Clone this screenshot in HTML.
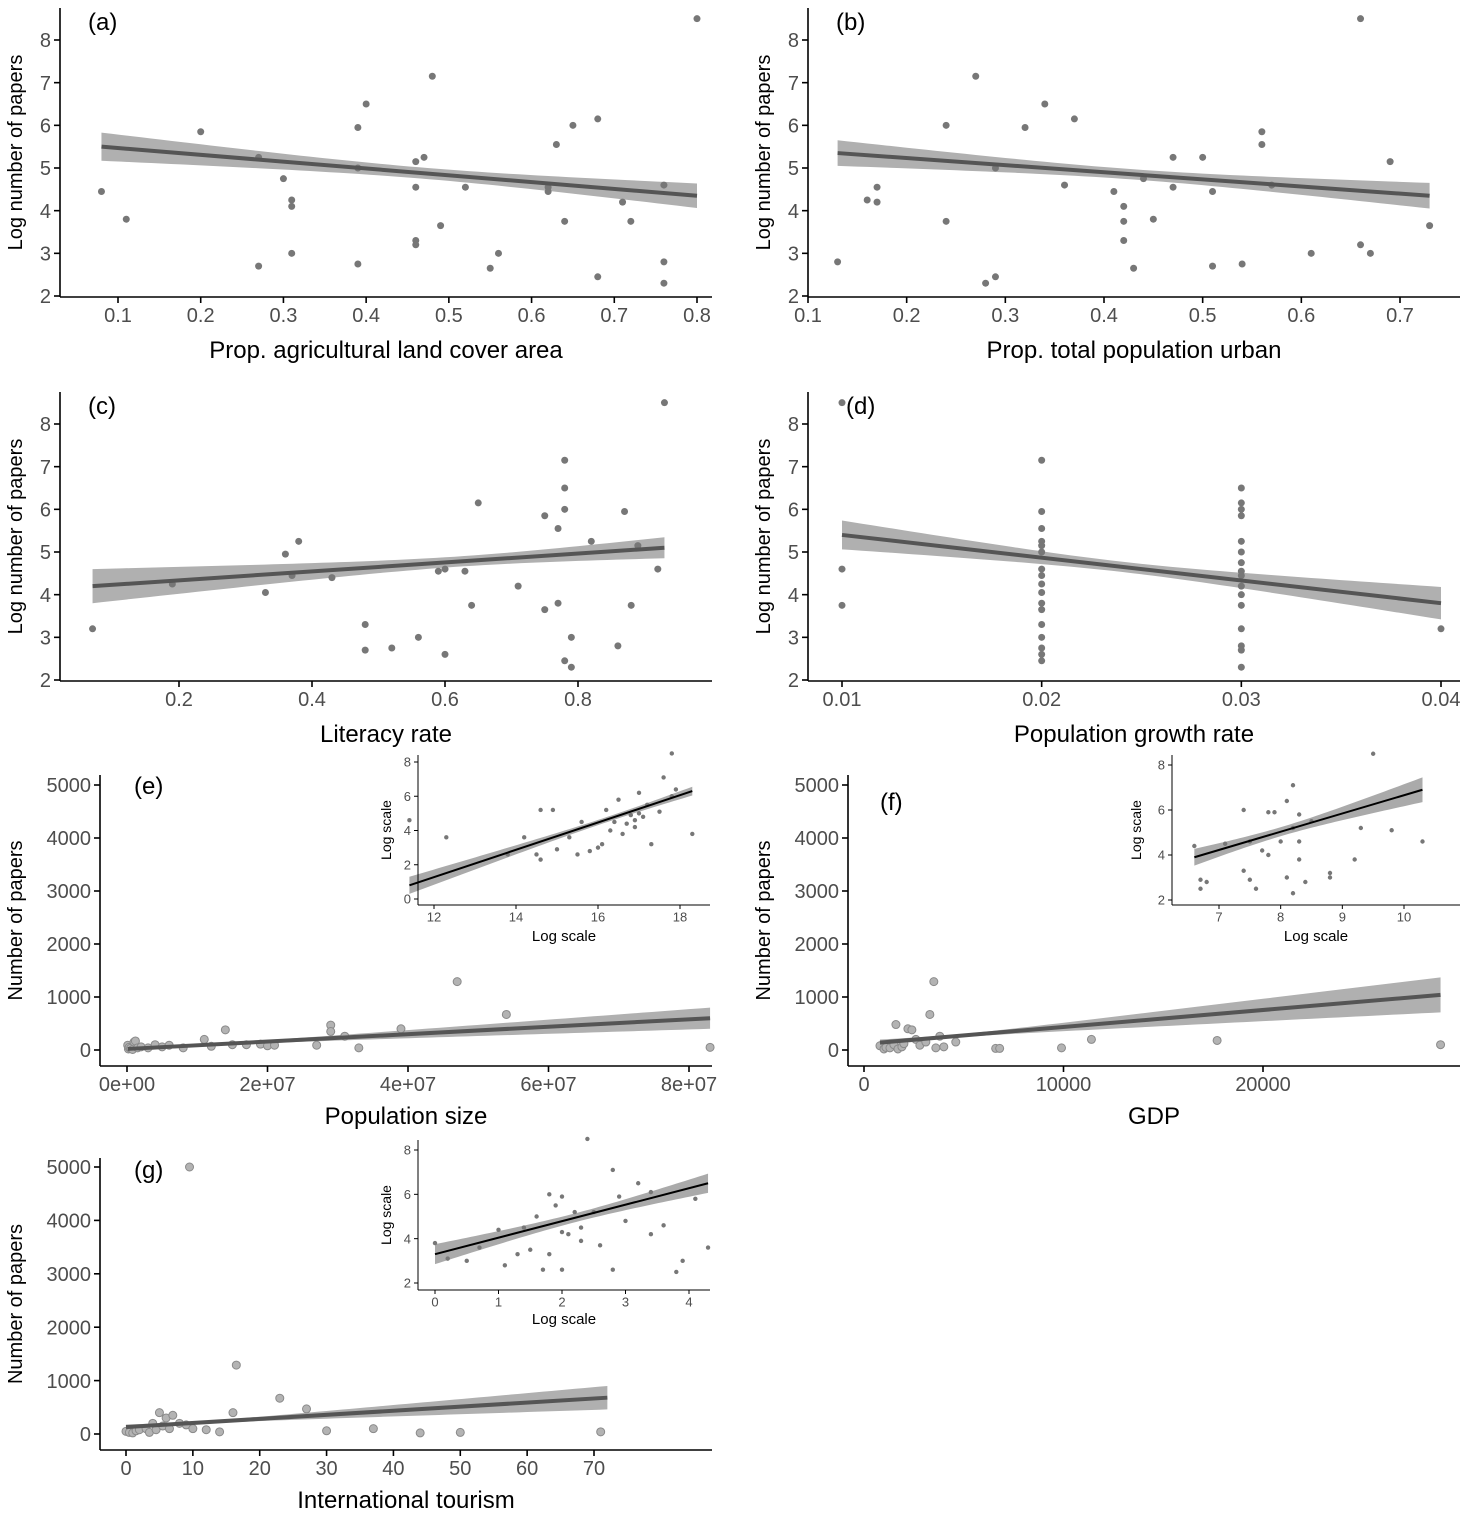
<!DOCTYPE html>
<html><head><meta charset="utf-8"><style>
html,body{margin:0;padding:0;background:#fff}
svg text{font-family:"Liberation Sans",Arial,sans-serif}
</style></head><body>
<svg id="c" width="1477" height="1514" xmlns="http://www.w3.org/2000/svg"></svg>
<script>
// ---------- data ----------
const aX=[0.08,0.11,0.2,0.27,0.27,0.3,0.31,0.31,0.31,0.39,0.39,0.39,0.4,0.46,0.46,0.46,0.46,0.47,0.48,0.49,0.52,0.55,0.56,0.63,0.62,0.62,0.64,0.65,0.68,0.68,0.71,0.72,0.76,0.76,0.76,0.8];
const aY=[4.45,3.8,5.85,5.25,2.7,4.75,4.25,4.1,3.0,5.95,5.0,2.75,6.5,5.15,4.55,3.3,3.2,5.25,7.15,3.65,4.55,2.65,3.0,5.55,4.55,4.45,3.75,6.0,6.15,2.45,4.2,3.75,4.6,2.8,2.3,8.5];
const aFit=[5.5,4.35];
const bX=[0.13,0.16,0.17,0.17,0.24,0.24,0.27,0.28,0.29,0.29,0.32,0.34,0.36,0.37,0.41,0.42,0.42,0.42,0.43,0.44,0.45,0.47,0.47,0.5,0.51,0.51,0.54,0.56,0.56,0.57,0.61,0.66,0.66,0.67,0.69,0.73];
const bY=[2.8,4.25,4.55,4.2,6.0,3.75,7.15,2.3,5.0,2.45,5.95,6.5,4.6,6.15,4.45,4.1,3.75,3.3,2.65,4.75,3.8,5.25,4.55,5.25,4.45,2.7,2.75,5.85,5.55,4.6,3.0,8.5,3.2,3.0,5.15,3.65];
const bFit=[5.35,4.35];
const cX=[0.07,0.19,0.33,0.36,0.37,0.38,0.43,0.48,0.48,0.52,0.56,0.59,0.6,0.6,0.63,0.64,0.65,0.71,0.75,0.75,0.77,0.77,0.78,0.78,0.78,0.78,0.79,0.79,0.82,0.86,0.87,0.88,0.89,0.92,0.93];
const cY=[3.2,4.25,4.05,4.95,4.45,5.25,4.4,3.3,2.7,2.75,3.0,4.55,4.6,2.6,4.55,3.75,6.15,4.2,5.85,3.65,5.55,3.8,7.15,6.5,6.0,2.45,3.0,2.3,5.25,2.8,5.95,3.75,5.15,4.6,8.5];
const cFit=[4.2,5.1];
const dX=[0.01,0.01,0.01,0.02,0.02,0.02,0.02,0.02,0.02,0.02,0.02,0.02,0.02,0.02,0.02,0.02,0.02,0.02,0.02,0.02,0.03,0.03,0.03,0.03,0.03,0.03,0.03,0.03,0.03,0.03,0.03,0.03,0.03,0.03,0.03,0.03,0.04];
const dY=[8.5,4.6,3.75,7.15,5.95,5.55,5.25,5.15,5.0,4.6,4.45,4.25,4.05,3.8,3.65,3.3,3.0,2.75,2.6,2.45,6.5,6.15,6.0,5.85,5.25,5.0,4.75,4.55,4.45,4.2,4.0,3.75,3.2,2.8,2.7,2.3,3.2];
const dFit=[5.4,3.8];
const eX=[0.1e6,0.2e6,0.3e6,0.5e6,0.8e6,1.0e6,1.2e6,1.5e6,2e6,3e6,4e6,5e6,6e6,8e6,11e6,12e6,14e6,15e6,17e6,19e6,20e6,21e6,27e6,29e6,29e6,31e6,33e6,39e6,47e6,54e6,83e6];
const eY=[90,20,50,30,10,150,170,40,60,40,100,60,90,40,200,70,380,100,100,110,80,90,90,470,350,260,40,400,1290,670,50];
const eFit=[20,600];
const fX=[800,1000,1100,1300,1500,1600,1700,1900,2000,2200,2400,2600,2800,3100,3300,3500,3600,3800,4000,4600,6600,6800,9900,11400,17700,28900];
const fY=[80,20,50,40,100,480,20,60,120,400,380,200,90,150,670,1290,40,260,60,150,30,30,40,200,180,100];
const fFit=[140,1040];
const gX=[0,0.5,1,1.5,2,3,3.5,4,4.5,5,5.5,6,6.5,7,8,9,9.5,10,12,14,16.5,16,23,27,30,37,44,50,71];
const gY=[50,30,20,60,80,100,30,200,80,400,150,300,100,350,200,170,5000,100,80,40,1290,400,670,470,60,100,20,30,40];
const gFit=[130,680];
const eiX=[11.4,12.3,13.8,14.2,14.5,14.6,14.6,14.9,15.0,15.3,15.5,15.6,15.8,16.0,16.1,16.2,16.3,16.4,16.5,16.6,16.7,16.8,16.9,16.9,17.0,17.0,17.1,17.2,17.3,17.5,17.6,17.8,17.9,18.3,17.8];
const eiY=[4.6,3.6,2.6,3.6,2.6,2.3,5.2,5.2,2.9,3.6,2.6,4.5,2.8,3.0,3.2,5.2,4.0,4.5,5.8,3.8,4.4,4.9,4.2,4.6,5.0,6.2,4.8,5.5,3.2,5.1,7.1,8.5,6.4,3.8,6.0];
const eiFit=[0.8,6.3];
const fiX=[6.6,6.7,6.7,6.8,7.1,7.4,7.4,7.5,7.5,7.6,7.7,7.8,7.8,7.9,8.0,8.1,8.1,8.2,8.2,8.2,8.3,8.3,8.3,8.4,8.5,8.8,8.8,9.2,9.3,9.5,9.8,10.3];
const fiY=[4.4,2.9,2.5,2.8,4.5,6.0,3.3,2.9,4.6,2.5,4.2,4.0,5.9,5.9,4.6,3.0,6.4,7.1,2.3,5.2,4.6,5.8,3.8,2.8,5.5,3.2,3.0,3.8,5.2,8.5,5.1,4.6];
const fiFit=[3.9,6.9];
const giX=[0,0.5,0.7,1.0,1.1,1.4,1.5,1.6,1.7,1.8,1.8,1.9,2.0,2.0,2.0,2.1,2.2,2.3,2.3,2.4,2.5,2.6,2.8,2.8,2.9,3.0,3.2,3.4,3.4,3.6,3.8,3.9,4.1,4.3,0.2,1.3];
const giY=[3.8,3.0,3.6,4.4,2.8,4.5,3.5,5.0,2.6,6.0,3.3,5.5,4.3,5.9,2.6,4.2,5.2,4.5,3.9,8.5,5.2,3.7,7.1,2.6,5.9,4.8,6.5,4.2,6.1,4.6,2.5,3.0,5.8,3.6,3.1,3.3];
const giFit=[3.3,6.5];
const pctTicks=[0.1,0.2,0.3,0.4,0.5,0.6,0.7,0.8];
const logTicks=[2,3,4,5,6,7,8];

// ---------- drawing ----------
const S=document.getElementById('c');const NS='http://www.w3.org/2000/svg';
function el(t,a,p){const e=document.createElementNS(NS,t);for(const k in a)e.setAttribute(k,a[k]);(p||S).appendChild(e);return e;}
function txt(s,a,p){const e=el('text',a,p);e.textContent=s;return e;}
function lin(d0,d1,r0,r1){return v=>r0+(v-d0)/(d1-d0)*(r1-r0);}

function panel(o){
  const g=el('g',{});
  
  
  const sx=lin(o.xd[0],o.xd[1],o.xr[0],o.xr[1]);
  const sy=lin(o.yd[0],o.yd[1],o.yr[0],o.yr[1]);
  const fs=o.fs||20, ts=o.ts||24, tl=o.tl||6;
  const x0=o.fx[0],x1=o.fx[1],N=60;
  const xm=(o.bc!==undefined)?o.bc:(x0+x1)/2;
  const den=Math.max(Math.abs(x0-xm),Math.abs(x1-xm));
  const fit=x=>o.fit[0]+(x-x0)/(x1-x0)*(o.fit[1]-o.fit[0]);
  const hw=x=>{const t=(x-xm)/den;return Math.sqrt(o.band[0]*o.band[0]+(o.band[1]*o.band[1]-o.band[0]*o.band[0])*t*t);};
  let up=[],dn=[];
  for(let i=0;i<=N;i++){const x=x0+(x1-x0)*i/N;up.push(sx(x)+','+sy(fit(x)+hw(x)));dn.unshift(sx(x)+','+sy(fit(x)-hw(x)));}
  const band=el('polygon',{points:up.concat(dn).join(' '),fill:o.bandCol||'#b0b0b0'},g);
  
  
  o.px.forEach((x,i)=>{
    const c=el('circle',{cx:sx(x),cy:sy(o.py[i]),r:o.r||3.5,fill:o.pcol||'#777',stroke:o.pstroke||'none','stroke-width':1},g);
    
    
  });
  const L=el('line',{x1:sx(x0),y1:sy(fit(x0)),x2:sx(x1),y2:sy(fit(x1)),stroke:o.lcol||'#555','stroke-width':o.lw||4},g);
  
  
  const ax=el('g',{},g);
  el('line',{x1:o.ax,y1:o.ay,x2:o.ax,y2:o.atop,stroke:'#000','stroke-width':o.aw||1.6},ax);
  o.yt.forEach((v,i)=>{el('line',{x1:o.ax-tl,x2:o.ax,y1:sy(v),y2:sy(v),stroke:'#000','stroke-width':o.aw||1.6},ax);
    txt(o.ytl?o.ytl[i]:String(v),{x:o.ax-tl-3,y:sy(v)+fs*0.36,'font-size':fs,'text-anchor':'end',fill:'#4d4d4d'},ax);});
  const bx=el('g',{},g);
  el('line',{x1:o.ax,y1:o.ay,x2:o.aright,y2:o.ay,stroke:'#000','stroke-width':o.aw||1.6},bx);
  o.xt.forEach((v,i)=>{el('line',{x1:sx(v),x2:sx(v),y1:o.ay,y2:o.ay+tl,stroke:'#000','stroke-width':o.aw||1.6},bx);
    txt(o.xtl?o.xtl[i]:String(v),{x:sx(v),y:o.ay+tl+fs*0.95,'font-size':fs,'text-anchor':'middle',fill:'#4d4d4d'},bx);});
  const xt=txt(o.xtitle,{x:(o.ax+o.aright)/2,y:o.xty,'font-size':ts,'text-anchor':'middle',fill:'#000'},g);
  
  const yt=txt(o.ytitle,{x:0,y:0,'font-size':o.yts||20,'text-anchor':'middle',fill:'#000',transform:`translate(${o.ytx},${(o.ay+o.atop)/2}) rotate(-90)`},g);
  
  if(o.label){const lb=txt(o.label,{x:o.lx,y:o.ly,'font-size':24,fill:'#000'},g);}
}
const logY=(yr)=>({yd:[2,8],yr:yr,yt:logTicks});
panel({name:'panel-a',px:aX,py:aY,fit:aFit,fx:[0.08,0.8],band:[0.13,0.33],bc:0.47,xd:[0.1,0.8],xr:[118,697],...logY([296,40]),xt:pctTicks,ax:60,ay:297,atop:8,aright:712,xtitle:'Prop. agricultural land cover area',xty:358,ytitle:'Log number of papers',ytx:22,label:'(a)',lx:88,ly:30});
panel({name:'panel-b',px:bX,py:bY,fit:bFit,fx:[0.13,0.73],band:[0.12,0.3],bc:0.43,xd:[0.1,0.7],xr:[808,1400],...logY([296,40]),xt:[0.1,0.2,0.3,0.4,0.5,0.6,0.7],ax:808,ay:297,atop:8,aright:1460,xtitle:'Prop. total population urban',xty:358,ytitle:'Log number of papers',ytx:770,label:'(b)',lx:836,ly:30});
panel({name:'panel-c',px:cX,py:cY,fit:cFit,fx:[0.07,0.93],band:[0.12,0.4],bc:0.62,xd:[0.2,0.8],xr:[179,578],...logY([680,424]),xt:[0.2,0.4,0.6,0.8],ax:60,ay:681,atop:392,aright:712,xtitle:'Literacy rate',xty:742,ytitle:'Log number of papers',ytx:22,label:'(c)',lx:88,ly:414});
panel({name:'panel-d',px:dX,py:dY,fit:dFit,fx:[0.01,0.04],band:[0.12,0.38],bc:0.024,xd:[0.01,0.04],xr:[842,1441],...logY([680,424]),xt:[0.01,0.02,0.03,0.04],ax:808,ay:681,atop:392,aright:1460,xtitle:'Population growth rate',xty:742,ytitle:'Log number of papers',ytx:770,label:'(d)',lx:846,ly:414});
const paperT=[0,1000,2000,3000,4000,5000];
panel({name:'panel-e',px:eX,py:eY,fit:eFit,fx:[0.1e6,83e6],band:[25,200],bc:15e6,xd:[0,8e7],xr:[127,689],yd:[0,5000],yr:[1050,785],yt:paperT,xt:[0,2e7,4e7,6e7,8e7],xtl:['0e+00','2e+07','4e+07','6e+07','8e+07'],ax:100,ay:1066,atop:775,aright:712,xtitle:'Population size',xty:1124,ytitle:'Number of papers',ytx:22,label:'(e)',lx:134,ly:794,r:4,pcol:'#b3b3b3',pstroke:'#8a8a8a'});
panel({name:'panel-f',px:fX,py:fY,fit:fFit,fx:[800,28900],band:[30,330],bc:4500,xd:[0,20000],xr:[864,1263],yd:[0,5000],yr:[1050,785],yt:paperT,xt:[0,10000,20000],ax:848,ay:1066,atop:775,aright:1460,xtitle:'GDP',xty:1124,ytitle:'Number of papers',ytx:770,label:'(f)',lx:880,ly:810,r:4,pcol:'#b3b3b3',pstroke:'#8a8a8a'});
panel({name:'panel-g',px:gX,py:gY,fit:gFit,fx:[0,72],band:[25,220],bc:11,xd:[0,70],xr:[126,594],yd:[0,5000],yr:[1434,1167],yt:paperT,xt:[0,10,20,30,40,50,60,70],ax:100,ay:1450,atop:1158,aright:712,xtitle:'International tourism',xty:1508,ytitle:'Number of papers',ytx:22,label:'(g)',lx:134,ly:1178,r:4,pcol:'#b3b3b3',pstroke:'#8a8a8a'});
const ins={fs:13,ts:15,yts:14,tl:4,aw:1,r:2.2,pcol:'#777',lcol:'#000',lw:2,bandCol:'#aaa'};
panel({...ins,name:'inset-e',px:eiX,py:eiY,fit:eiFit,fx:[11.4,18.3],band:[0.15,0.5],bc:16.2,xd:[12,18],xr:[434,680],yd:[0,8],yr:[899,762],yt:[0,2,4,6,8],xt:[12,14,16,18],ax:418,ay:905,atop:755,aright:710,xtitle:'Log scale',xty:941,ytitle:'Log scale',ytx:391});
panel({...ins,name:'inset-f',px:fiX,py:fiY,fit:fiFit,fx:[6.6,10.3],band:[0.2,0.55],bc:8.0,xd:[7,10],xr:[1219,1404],yd:[2,8],yr:[900,765],yt:[2,4,6,8],xt:[7,8,9,10],ax:1172,ay:905,atop:755,aright:1460,xtitle:'Log scale',xty:941,ytitle:'Log scale',ytx:1141});
panel({...ins,name:'inset-g',px:giX,py:giY,fit:giFit,fx:[0,4.3],band:[0.2,0.45],bc:2.2,xd:[0,4],xr:[435,689],yd:[2,8],yr:[1283,1150],yt:[2,4,6,8],xt:[0,1,2,3,4],ax:418,ay:1290,atop:1140,aright:710,xtitle:'Log scale',xty:1324,ytitle:'Log scale',ytx:391});
</script>
</body></html>
